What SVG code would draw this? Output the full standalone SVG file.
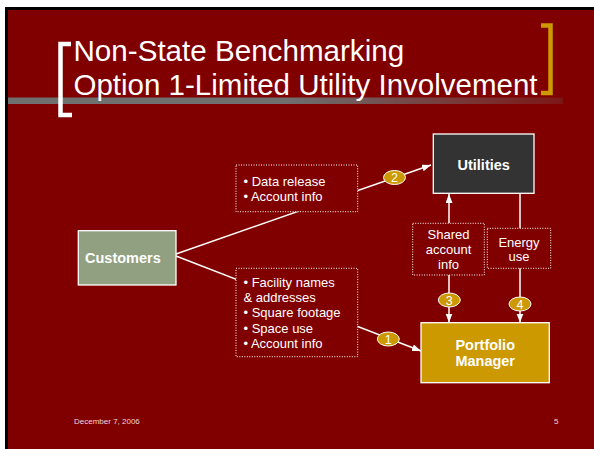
<svg xmlns="http://www.w3.org/2000/svg" width="594" height="449" viewBox="0 0 594 449">
<defs>
<linearGradient id="bar" x1="0" y1="0" x2="1" y2="0">
<stop offset="0" stop-color="#707070"/>
<stop offset="0.5" stop-color="#707070"/>
<stop offset="1" stop-color="#707070" stop-opacity="0.2"/>
</linearGradient>
<marker id="ah" markerUnits="userSpaceOnUse" markerWidth="10" markerHeight="8" refX="9" refY="3.5" orient="auto">
<path d="M0,0 L9,3.5 L0,7 z" fill="#ffffff"/>
</marker>
<style>
text{font-family:"Liberation Sans",Arial,sans-serif;fill:#ffffff}
.title{font-size:29.6px}
.lbl{font-size:13px}
.bold{font-size:14.5px;font-weight:bold}
.c{text-anchor:middle}
.dot{fill:#800000;stroke:#ffffff;stroke-width:1;stroke-dasharray:1 1.5}
.box{stroke:#ffffff;stroke-width:1.3}
.conn{stroke:#ffffff;stroke-width:1.5;fill:none}
.badge{fill:#cc9900;stroke:#ffffff;stroke-width:1}
.num{font-size:12.5px;text-anchor:middle}
.foot{font-size:8px;fill:#f0d4d4}
</style>
</defs>
<rect x="0" y="0" width="594" height="449" fill="#ffffff"/>
<rect x="5" y="7" width="589" height="442" fill="#000000"/>
<rect x="8" y="10" width="586" height="439" fill="#800000"/>

<g id="title">
<rect x="8" y="97.5" width="555" height="6.5" fill="url(#bar)"/>
<path d="M71,44 H60.5 V115 H72" fill="none" stroke="#ffffff" stroke-width="4.5"/>
<path d="M541,25.5 H550.5 V93 H541" fill="none" stroke="#cc9900" stroke-width="4.5"/>
<text class="title" x="73.5" y="61">Non-State Benchmarking</text>
<text class="title" x="73.5" y="94.5" textLength="464" lengthAdjust="spacingAndGlyphs">Option 1-Limited Utility Involvement</text>
</g>

<g id="connectors">
<line class="conn" x1="176" y1="254" x2="431" y2="165" marker-end="url(#ah)"/>
<line class="conn" x1="176" y1="256" x2="421" y2="351" marker-end="url(#ah)"/>
<line class="conn" x1="449" y1="223" x2="449" y2="194" marker-end="url(#ah)"/>
<line class="conn" x1="449" y1="275" x2="449" y2="322.5" marker-end="url(#ah)"/>
<line class="conn" x1="520" y1="193" x2="520" y2="228.5"/>
<line class="conn" x1="520" y1="268" x2="520" y2="322.5" marker-end="url(#ah)"/>
</g>

<g id="customers">
<rect class="box" x="78.3" y="230.7" width="97.7" height="54.3" fill="#90a080"/>
<text class="bold" x="85" y="262.7">Customers</text>
</g>

<g id="data-release">
<rect class="dot" x="236" y="165" width="121.7" height="46.7"/>
<text class="lbl" x="243.5" y="185.7">• Data release</text>
<text class="lbl" x="243.5" y="201">• Account info</text>
</g>

<g id="facility-info">
<rect class="dot" x="236" y="268.3" width="121.7" height="88.4"/>
<text class="lbl" x="243.5" y="286.7">• Facility names</text>
<text class="lbl" x="243.5" y="301.7">&amp; addresses</text>
<text class="lbl" x="243.5" y="317.3">• Square footage</text>
<text class="lbl" x="243.5" y="332.7">• Space use</text>
<text class="lbl" x="243.5" y="348">• Account info</text>
</g>

<g id="utilities">
<rect class="box" x="433.3" y="134" width="100.7" height="59.3" fill="#333333"/>
<text class="bold c" x="483.7" y="170">Utilities</text>
</g>

<g id="shared-account-info">
<rect class="dot" x="412.7" y="223.3" width="71.6" height="51.7"/>
<text class="lbl c" x="448.5" y="239">Shared</text>
<text class="lbl c" x="448.5" y="253.5">account</text>
<text class="lbl c" x="448.5" y="269">info</text>
</g>

<g id="energy-use">
<rect class="dot" x="487.3" y="228.3" width="63.4" height="40"/>
<text class="lbl c" x="519" y="246.7">Energy</text>
<text class="lbl c" x="519" y="261">use</text>
</g>

<g id="portfolio-manager">
<rect class="box" x="421" y="322.7" width="128.3" height="60" fill="#cc9900"/>
<text class="bold c" x="485.2" y="350">Portfolio</text>
<text class="bold c" x="485.2" y="366">Manager</text>
</g>

<g id="badge-1">
<ellipse class="badge" cx="388.3" cy="339" rx="11" ry="7"/>
<text class="num" x="388.3" y="343.5">1</text>
</g>
<g id="badge-2">
<ellipse class="badge" cx="394.5" cy="177.5" rx="11" ry="7"/>
<text class="num" x="394.5" y="182">2</text>
</g>
<g id="badge-3">
<ellipse class="badge" cx="449.3" cy="300" rx="11" ry="7"/>
<text class="num" x="449.3" y="304.5">3</text>
</g>
<g id="badge-4">
<ellipse class="badge" cx="520" cy="304" rx="11" ry="7"/>
<text class="num" x="520" y="308.5">4</text>
</g>

<g id="footer">
<text class="foot" x="74" y="424">December 7, 2006</text>
<text class="foot" x="554" y="424">5</text>
</g>
</svg>
